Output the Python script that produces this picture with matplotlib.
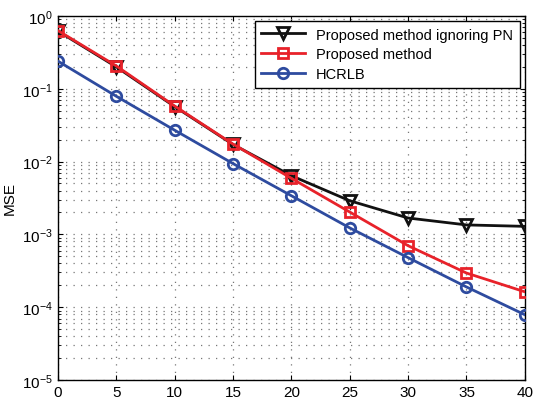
import matplotlib
matplotlib.use("Agg")
import matplotlib.pyplot as plt
from matplotlib.ticker import LogLocator, NullFormatter

plt.rcParams['font.family'] = ['Liberation Sans', 'DejaVu Sans']

snr = [0, 5, 10, 15, 20, 25, 30, 35, 40]
mse_ignoring_pn = [0.62, 0.20, 0.057, 0.0172, 0.0064, 0.0029, 0.00168, 0.00135, 0.00129]
mse_proposed = [0.63, 0.206, 0.058, 0.0174, 0.0059, 0.00203, 0.00070, 0.000295, 0.000163]
mse_hcrlb = [0.24, 0.079, 0.027, 0.0094, 0.0034, 0.00123, 0.00048, 0.00019, 0.000079]

fig = plt.figure(figsize=(5.35, 4.02), dpi=100)
ax = fig.add_axes([0.108, 0.052, 0.873, 0.906])

ax.semilogy(snr, mse_ignoring_pn, color='#111111', lw=2, marker='v', ms=8.5,
            mfc='none', mew=2, label='Proposed method ignoring PN', zorder=3)
ax.semilogy(snr, mse_proposed, color='#e8222a', lw=2, marker='s', ms=7.5,
            mfc='none', mew=2, label='Proposed method', zorder=3)
ax.semilogy(snr, mse_hcrlb, color='#2e4b9f', lw=2, marker='o', ms=7.5,
            mfc='none', mew=2, label='HCRLB', zorder=3)

ax.set_xlim(0, 40)
ax.set_ylim(1e-5, 1)
ax.set_xticks(snr)
ax.yaxis.set_major_locator(LogLocator(base=10, numticks=10))
ax.yaxis.set_minor_locator(LogLocator(base=10, subs=range(2, 10), numticks=20))
ax.yaxis.set_minor_formatter(NullFormatter())
gridstyle = dict(ls=(0, (1, 5)), color='#777777', lw=0.9)
ax.grid(True, which='major', **gridstyle)
ax.grid(True, which='minor', axis='y', **gridstyle)
ax.tick_params(direction='in', which='both', top=True, right=True, labelsize=11)
for s in ax.spines.values():
    s.set_linewidth(1.0)
ax.set_ylabel('MSE', fontsize=11)

leg = ax.legend(loc='upper right', fontsize=10.5, frameon=True, fancybox=False,
                edgecolor='black', framealpha=1, borderaxespad=0.35,
                handlelength=2.95, labelspacing=0.4, borderpad=0.45)
leg.get_frame().set_linewidth(1.0)

fig.savefig('out.png', dpi=100)
